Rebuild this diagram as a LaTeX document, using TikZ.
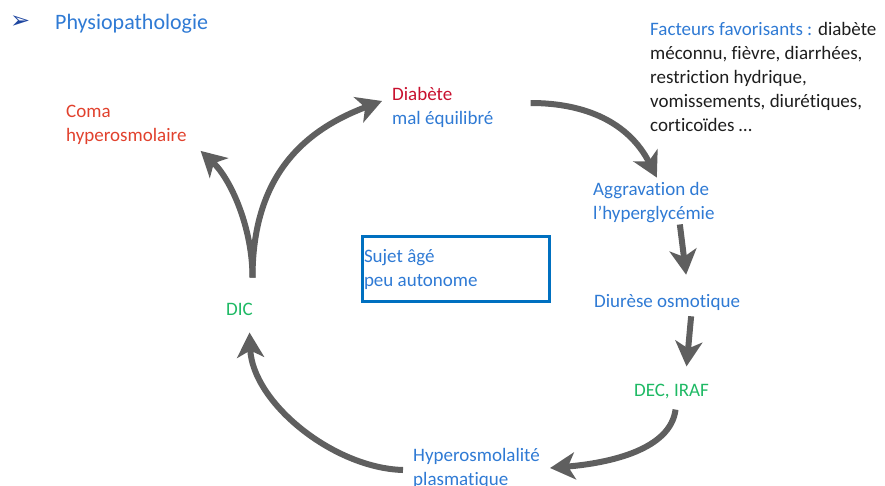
\documentclass[tikz,border=0pt]{standalone}
\usepackage{fontspec}
\setmainfont{Carlito}[RawFeature={-liga;-clig;-calt;-dlig}]
\newfontfamily\symbfont{DejaVu Sans}
\usetikzlibrary{arrows.meta}
\usetikzlibrary{calc}

\definecolor{txtblue}{RGB}{47,122,212}
\definecolor{diabred}{RGB}{200,16,46}
\definecolor{comared}{RGB}{225,65,45}
\definecolor{stepgreen}{RGB}{30,185,100}
\definecolor{arrowgray}{RGB}{95,95,95}
\definecolor{boxblue}{RGB}{0,112,192}
\definecolor{bulletblue}{RGB}{30,70,160}
\definecolor{txtblack}{RGB}{30,30,30}

\begin{document}
\begin{tikzpicture}[x=1pt, y=-1pt,
    txt/.style={inner sep=0pt, anchor=west, align=left, font=\fontsize{19}{24}\selectfont},
    flow/.style={draw=arrowgray, line width=6pt, -{Stealth[length=25pt, width=27pt, inset=7pt]}},
    framebox/.style={draw=boxblue, line width=3pt, inner xsep=1.5pt, inner ysep=0pt, minimum width=187pt, minimum height=65pt, text width=184pt, align=flush left, font=\fontsize{19}{24}\selectfont, text=txtblue}
]
    \useasboundingbox (0,0) rectangle (885,485);

    % Title:
    \draw (10,22) node[txt, text=bulletblue, font=\symbfont\fontsize{24}{24}\selectfont] (bullet) {➢};
    \draw (55,24) node[txt, text=txtblue, font=\fontsize{22}{26}\selectfont] (title) {Physiopathologie};

    \draw (650,77) node[txt, text=txtblack] (fact) {{\color{txtblue}Facteurs favorisants :} diabète\\méconnu, fièvre, diarrhées,\\restriction hydrique,\\vomissements, diurétiques,\\corticoïdes …};

    % Cycle steps:
    \draw (392,107) node[txt, text=txtblue] (diab) {{\color{diabred}Diabète}\\mal équilibré};
    \draw (593,203) node[txt, text=txtblue] (aggr) {Aggravation de\\l’hyperglycémie};
    \draw (594,302) node[txt, text=txtblue] (diur) {Diurèse osmotique};
    \draw (634,392) node[txt, text=stepgreen] (dec) {DEC, IRAF};
    \draw (413,468) node[txt, text=txtblue] (hyper) {Hyperosmolalité\\plasmatique};
    \draw (226,309) node[txt, text=stepgreen] (dic) {DIC};
    \draw (66,125) node[txt, text=comared] (coma) {Coma\\hyperosmolaire};

    \draw (456,269) node[framebox] (sujet) {Sujet âgé\\peu autonome};

    % Arrows round the cycle:
    \draw[flow] ($(diab.east)+(37,-4)$) .. controls +(55,0) and +(-28,-55) .. ($(aggr.north)+(3,-5)$);
    \draw[flow] ($(aggr.south)+(26,1)$) -- ($(diur.north)+(19,-19)$);
    \draw[flow] ($(diur.south)+(24,6)$) -- ($(dec.north)+(15,-18)$);
    \draw[flow] ($(dec.south)+(4,10)$) .. controls +(-5,40) and +(60,-5) .. ($(hyper.east)+(10,0)$);
    \draw[flow] ($(hyper.west)+(-10,2)$) .. controls +(-70,-2) and +(3,70) .. ($(dic.south)+(10,17)$);
    \draw[flow] ($(dic.north)+(13,-25)$) .. controls +(0,-100) and +(-80,30) .. ($(diab.west)+(-10,-6)$);
    \draw[flow] ($(dic.north)+(13,-25)$) .. controls +(0,-50) and +(30,28) .. ($(coma.south east)+(14,6)$);

\end{tikzpicture}
\end{document}
